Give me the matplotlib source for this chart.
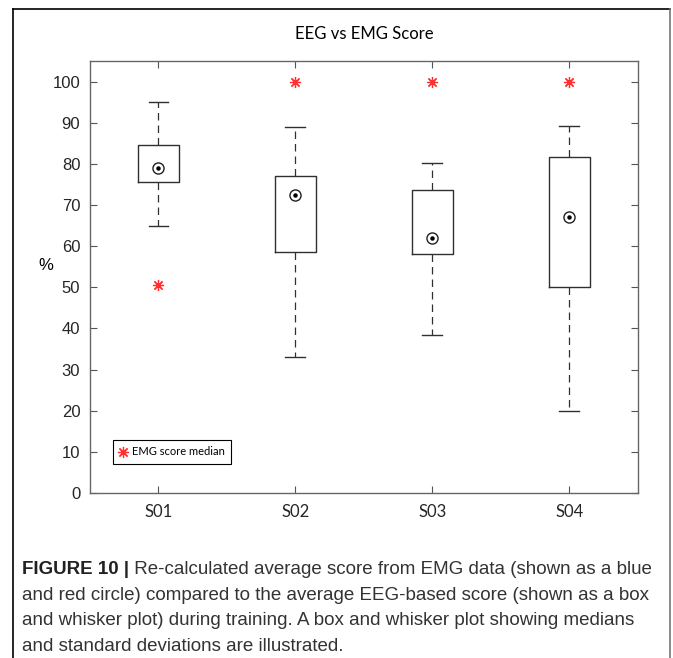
import numpy as np
import matplotlib
matplotlib.use('Agg')
import matplotlib.pyplot as plt
from matplotlib.lines import Line2D

# data
subjects = ['S01', 'S02', 'S03', 'S04']
whisker_low = [65.0, 33.0, 38.5, 20.0]
box_low = [75.6, 58.5, 58.0, 50.0]
medians = [79.1, 72.5, 62.0, 67.1]
box_high = [84.6, 77.0, 73.6, 81.6]
whisker_high = [95.1, 88.9, 80.1, 89.1]
emg_median = [50.6, 100.0, 100.0, 100.0]

caption_lines = [
    'and red circle) compared to the average EEG-based score (shown as a box',
    'and whisker plot) during training. A box and whisker plot showing medians',
    'and standard deviations are illustrated.',
]

W, H = 673, 658
fig = plt.figure(figsize=(W / 100, H / 100), dpi=100)
ax = fig.add_axes([90 / W, 1 - 493 / H, 547.7 / W, 432 / H])

stats = []
for i, name in enumerate(subjects):
    stats.append(dict(label=name, med=medians[i], q1=box_low[i], q3=box_high[i],
                      whislo=whisker_low[i], whishi=whisker_high[i], fliers=[]))

pos = np.arange(1, len(subjects) + 1)
ax.bxp(stats, positions=pos, widths=0.30, capwidths=0.145, showfliers=False,
       boxprops=dict(color='#303030', linewidth=1.0),
       whiskerprops=dict(color='#303030', linewidth=0.9, linestyle=(0, (6, 4))),
       capprops=dict(color='#303030', linewidth=1.0),
       medianprops=dict(linestyle='none'))

# median shown as target symbol
ax.plot(pos, medians, linestyle='none', marker='o', markersize=8,
        markerfacecolor='white', markeredgecolor='#202020', markeredgewidth=1.0)
ax.plot(pos, medians, linestyle='none', marker='o', markersize=2.2,
        color='#000000')

ax.plot(pos, emg_median, linestyle='none', marker=(8, 2, 0), markersize=8,
        color='#ff3030', markeredgewidth=0.9, label='EMG score median')

ax.set_xlim(0.5, 4.5)
ax.set_ylim(0, 105)
ax.set_yticks(np.arange(0, 101, 10))
ax.set_xticks(pos)
ax.set_xticklabels(subjects, fontfamily='Lato', fontsize=12)
for lab in ax.get_yticklabels():
    lab.set_fontfamily('Liberation Sans')
    lab.set_fontsize(12)
ax.tick_params(direction='in', length=5, width=0.8, color='#555555',
               top=True, right=True, labelcolor='#262626')
ax.tick_params(axis='y', pad=7)
ax.tick_params(axis='x', pad=8)
for sp in ax.spines.values():
    sp.set_color('#666666')
    sp.set_linewidth(1.0)

ax.set_title('EEG vs EMG Score', fontfamily='Lato', fontsize=12, pad=16)
ax.set_ylabel('%', rotation=0, fontfamily='Liberation Sans', fontsize=12)
ax.yaxis.set_label_coords(-0.08, 0.51)

leg = ax.legend(loc='lower left', bbox_to_anchor=(0.042, 0.067),
                prop=dict(family='Lato', size=8), frameon=True, fancybox=False,
                edgecolor='black', framealpha=1, handlelength=0.6,
                handletextpad=0.5, borderpad=0.6, borderaxespad=0)
leg.get_frame().set_linewidth(0.8)

# outer frame
fig.add_artist(Line2D([13.3 / W, 670 / W], [1 - 9.3 / H, 1 - 9.3 / H],
                      transform=fig.transFigure, color='black', linewidth=1.2))
fig.add_artist(Line2D([13.3 / W, 13.3 / W], [1 - 9.3 / H, 0],
                      transform=fig.transFigure, color='black', linewidth=1.2))
fig.add_artist(Line2D([670 / W, 670 / W], [1 - 9.3 / H, 0],
                      transform=fig.transFigure, color='#777777', linewidth=1.2))

# caption
cap_x = 22 / W
bold = fig.text(cap_x, 1 - 569 / H, 'FIGURE 10 |', fontfamily='Liberation Sans',
                fontweight='bold', fontsize=13.5, color='#222222', va='center')
ax.annotate(' Re-calculated average score from EMG data (shown as a blue',
            xy=(1, 0.5), xycoords=bold, va='center', ha='left',
            fontfamily='Liberation Sans', fontsize=13.5, color='#333333',
            annotation_clip=False)
for k, line in enumerate(caption_lines):
    fig.text(cap_x, 1 - (595 + 25.7 * k) / H, line, fontfamily='Liberation Sans',
             fontsize=13.5, color='#333333', va='center')

fig.savefig('out.png', dpi=100)
